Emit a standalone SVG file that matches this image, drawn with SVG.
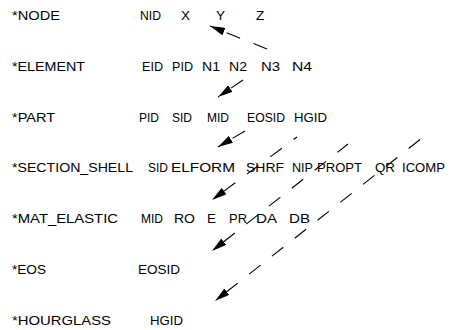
<svg xmlns="http://www.w3.org/2000/svg" width="460" height="330" viewBox="0 0 460 330">
<style>
text{font-family:"Liberation Sans",Arial,sans-serif;font-size:13.5px;fill:#000}
.c{fill:none;stroke:#000;stroke-width:1.1;stroke-dasharray:14.5 14.5;marker-end:url(#ah)}
</style>
<defs>
<marker id="ah" markerUnits="userSpaceOnUse" markerWidth="15" markerHeight="8" refX="15" refY="4" orient="auto" viewBox="0 0 15 8">
<path d="M0,0 L15,4 L0,8 Z" fill="#000"/>
</marker>
</defs>
<rect width="460" height="330" fill="#fff"/>
<g id="node">
<text x="12" y="20" textLength="48" lengthAdjust="spacingAndGlyphs">*NODE</text>
<text x="140" y="20" textLength="21" lengthAdjust="spacingAndGlyphs">NID</text>
<text x="181" y="20">X</text>
<text x="216" y="20">Y</text>
<text x="256" y="20">Z</text>
</g>
<g id="element">
<text x="12" y="71" textLength="73" lengthAdjust="spacingAndGlyphs">*ELEMENT</text>
<text x="142" y="71" textLength="21" lengthAdjust="spacingAndGlyphs">EID</text>
<text x="172" y="71" textLength="21" lengthAdjust="spacingAndGlyphs">PID</text>
<text x="202" y="71" textLength="18" lengthAdjust="spacingAndGlyphs">N1</text>
<text x="229" y="71" textLength="18" lengthAdjust="spacingAndGlyphs">N2</text>
<text x="261" y="71" textLength="19" lengthAdjust="spacingAndGlyphs">N3</text>
<text x="292" y="71" textLength="20" lengthAdjust="spacingAndGlyphs">N4</text>
</g>
<g id="part">
<text x="12" y="122" textLength="43" lengthAdjust="spacingAndGlyphs">*PART</text>
<text x="139" y="122" textLength="20" lengthAdjust="spacingAndGlyphs">PID</text>
<text x="172" y="122" textLength="20" lengthAdjust="spacingAndGlyphs">SID</text>
<text x="207" y="122" textLength="22" lengthAdjust="spacingAndGlyphs">MID</text>
<text x="247" y="122" textLength="38" lengthAdjust="spacingAndGlyphs">EOSID</text>
<text x="294" y="122" textLength="33" lengthAdjust="spacingAndGlyphs">HGID</text>
</g>
<g id="section_shell">
<text x="12" y="172" textLength="121" lengthAdjust="spacingAndGlyphs">*SECTION_SHELL</text>
<text x="148" y="172" textLength="20" lengthAdjust="spacingAndGlyphs">SID</text>
<text x="171" y="172" textLength="64" lengthAdjust="spacingAndGlyphs">ELFORM</text>
<text x="246" y="172" textLength="38" lengthAdjust="spacingAndGlyphs">SHRF</text>
<text x="292" y="172" textLength="21" lengthAdjust="spacingAndGlyphs">NIP</text>
<text x="317" y="172" textLength="45" lengthAdjust="spacingAndGlyphs">PROPT</text>
<text x="375" y="172" textLength="20" lengthAdjust="spacingAndGlyphs">QR</text>
<text x="402" y="172" textLength="43" lengthAdjust="spacingAndGlyphs">ICOMP</text>
</g>
<g id="mat_elastic">
<text x="12" y="223" textLength="106" lengthAdjust="spacingAndGlyphs">*MAT_ELASTIC</text>
<text x="141" y="223" textLength="22" lengthAdjust="spacingAndGlyphs">MID</text>
<text x="174" y="223" textLength="21" lengthAdjust="spacingAndGlyphs">RO</text>
<text x="207" y="223">E</text>
<text x="229" y="223" textLength="18" lengthAdjust="spacingAndGlyphs">PR</text>
<text x="256" y="223" textLength="21" lengthAdjust="spacingAndGlyphs">DA</text>
<text x="289" y="223" textLength="21" lengthAdjust="spacingAndGlyphs">DB</text>
</g>
<g id="eos">
<text x="12" y="274" textLength="34" lengthAdjust="spacingAndGlyphs">*EOS</text>
<text x="138" y="274" textLength="42" lengthAdjust="spacingAndGlyphs">EOSID</text>
</g>
<g id="hourglass">
<text x="12" y="325" textLength="99" lengthAdjust="spacingAndGlyphs">*HOURGLASS</text>
<text x="150" y="325" textLength="33" lengthAdjust="spacingAndGlyphs">HGID</text>
</g>
<g id="connectors">
<path class="c" d="M267,49 L210,26"/>
<path class="c" d="M243,80 L218,97"/>
<path class="c" d="M245,131 L218,147"/>
<path class="c" d="M297,137 L212,200" style="stroke-dashoffset:10.2"/>
<path class="c" d="M348,144 L212,251" style="stroke-dashoffset:1"/>
<path class="c" d="M422,138 L215,301" style="stroke-dashoffset:26.5"/>
</g>
</svg>
